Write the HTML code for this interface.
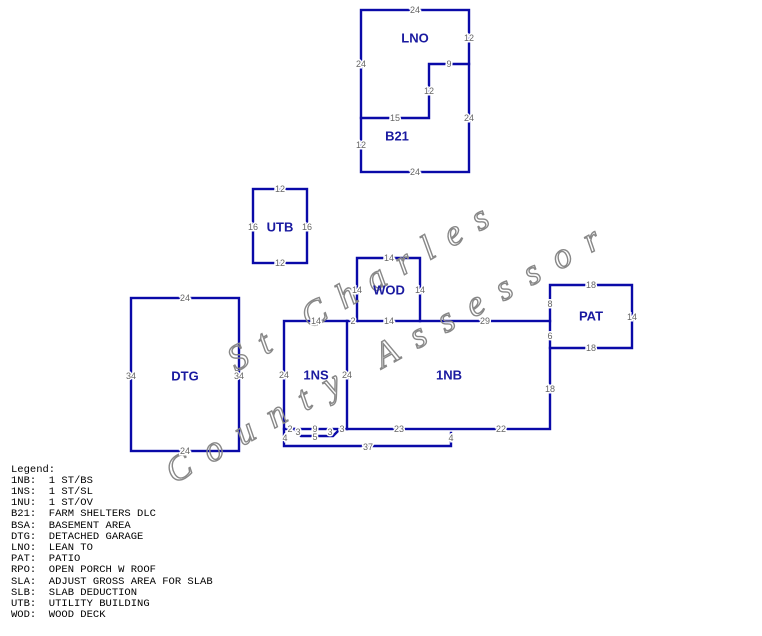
<!DOCTYPE html>
<html><head><style>
body{margin:0;background:#fff;width:762px;height:636px;overflow:hidden}
svg{display:block}
.l{stroke:#0a0aa8;stroke-width:2.4;fill:none;stroke-linecap:square}
.n{font-family:"Liberation Sans",sans-serif;font-size:9px;fill:#666;text-anchor:middle;dominant-baseline:central;stroke:#fff;stroke-width:3;paint-order:stroke}
.t{font-family:"Liberation Sans",sans-serif;font-size:13px;font-weight:bold;fill:#1a1aa0;text-anchor:middle;dominant-baseline:central}
.w{font-family:"Liberation Serif",serif;font-style:italic;font-size:36px;fill:none;stroke:#888;stroke-width:1.4}
.lg{font-family:"Liberation Mono",monospace;font-size:10.5px;fill:#000}
</style></head><body>
<svg width="762" height="636" viewBox="0 0 762 636">
<!-- LNO/B21 -->
<rect class="l" x="361" y="10" width="108" height="162"/>
<polyline class="l" points="361,118 429,118 429,64 469,64"/>
<!-- UTB -->
<rect class="l" x="253" y="189" width="54" height="74"/>
<!-- WOD -->
<polyline class="l" points="357,321 357,258 420,258 420,321"/>
<!-- DTG -->
<rect class="l" x="131" y="298" width="108" height="153"/>
<!-- 1NS / 1NB -->
<rect class="l" x="284" y="321" width="266" height="108"/>
<line class="l" x1="347" y1="321" x2="347" y2="429"/>
<!-- PAT -->
<polyline class="l" points="550,321 550,285 632,285 632,348 550,348"/>
<!-- porch -->
<polyline class="l" points="294,429 301,436 333,436 340,429"/>
<polyline class="l" points="284,429 284,446 451,446 451,433"/>
<!-- watermark -->
<g class="w">
<text transform="translate(236,372) rotate(-30)" letter-spacing="16">St Charles</text>
<text transform="translate(174,484) rotate(-29)" letter-spacing="18">County Assessor</text>
</g>
<!-- labels -->
<g class="t">
<text x="415" y="38">LNO</text><text x="397" y="136">B21</text>
<text x="280" y="227">UTB</text><text x="389" y="290">WOD</text>
<text x="185" y="376">DTG</text><text x="316" y="375">1NS</text>
<text x="449" y="375">1NB</text><text x="591" y="316">PAT</text>
</g>
<g class="n">
<text x="415" y="10">24</text><text x="469" y="38">12</text><text x="361" y="64">24</text>
<text x="449" y="64">9</text><text x="429" y="91">12</text><text x="395" y="118">15</text>
<text x="469" y="118">24</text><text x="361" y="145">12</text><text x="415" y="172">24</text>
<text x="280" y="189">12</text><text x="253" y="227">16</text><text x="307" y="227">16</text><text x="280" y="263">12</text>
<text x="389" y="258">14</text><text x="357" y="290">14</text><text x="420" y="290">14</text>
<text x="185" y="298">24</text><text x="131" y="376">34</text><text x="239" y="376">34</text><text x="185" y="451">24</text>
<text x="316" y="321">14</text><text x="353" y="321">2</text><text x="389" y="321">14</text><text x="485" y="321">29</text>
<text x="284" y="375">24</text><text x="347" y="375">24</text>
<text x="591" y="285">18</text><text x="550" y="304">8</text><text x="632" y="317">14</text><text x="550" y="336">6</text><text x="591" y="348">18</text>
<text x="550" y="389">18</text>
<text x="290" y="429">2</text><text x="298" y="432">3</text><text x="315" y="429">9</text><text x="330" y="432">3</text><text x="342" y="429">3</text>
<text x="315" y="437">5</text><text x="285" y="438">4</text>
<text x="399" y="429">23</text><text x="501" y="429">22</text><text x="451" y="438">4</text><text x="368" y="447">37</text>
</g>
<g class="lg">
<text x="11" y="472">Legend:</text>
<text x="11" y="483" xml:space="preserve">1NB:  1 ST/BS</text>
<text x="11" y="494" xml:space="preserve">1NS:  1 ST/SL</text>
<text x="11" y="505" xml:space="preserve">1NU:  1 ST/OV</text>
<text x="11" y="516" xml:space="preserve">B21:  FARM SHELTERS DLC</text>
<text x="11" y="528" xml:space="preserve">BSA:  BASEMENT AREA</text>
<text x="11" y="539" xml:space="preserve">DTG:  DETACHED GARAGE</text>
<text x="11" y="550" xml:space="preserve">LNO:  LEAN TO</text>
<text x="11" y="561" xml:space="preserve">PAT:  PATIO</text>
<text x="11" y="572" xml:space="preserve">RPO:  OPEN PORCH W ROOF</text>
<text x="11" y="584" xml:space="preserve">SLA:  ADJUST GROSS AREA FOR SLAB</text>
<text x="11" y="595" xml:space="preserve">SLB:  SLAB DEDUCTION</text>
<text x="11" y="606" xml:space="preserve">UTB:  UTILITY BUILDING</text>
<text x="11" y="617" xml:space="preserve">WOD:  WOOD DECK</text>
</g>
</svg>
</body></html>
